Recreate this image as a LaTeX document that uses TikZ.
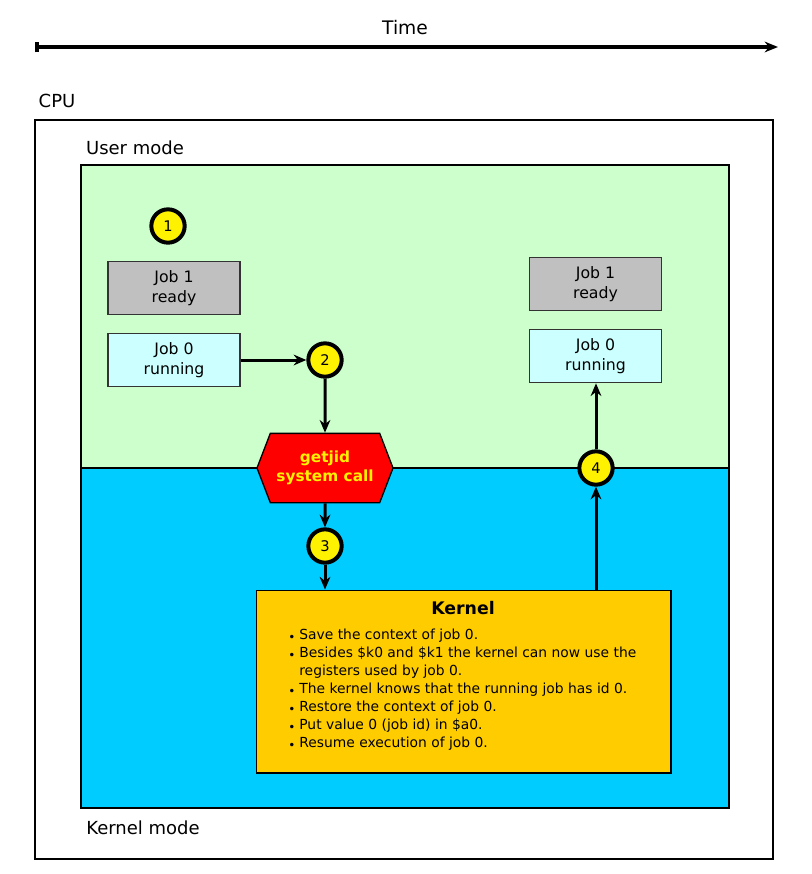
\documentclass[tikz,border=0pt]{standalone}
\usepackage{fontspec}
\setmainfont{DejaVu Sans}
\usetikzlibrary{arrows.meta, positioning, shapes.symbols}
\definecolor{usergreen}{HTML}{CCFFCC}
\definecolor{kernelblue}{HTML}{00CCFF}
\definecolor{readygray}{HTML}{C0C0C0}
\definecolor{runcyan}{HTML}{CCFFFF}
\definecolor{kernelorange}{HTML}{FFCC00}
\tikzset{
  jobbox/.style={
    minimum width=99pt,
    minimum height=40pt,
    align=center,
    draw=black!80,
    line width=1pt,
    inner sep=0pt,
    font=\fontsize{11.8}{15}\selectfont
  },
  ready/.style={jobbox, fill=readygray},
  running/.style={jobbox, fill=runcyan},
  stepnum/.style={
    circle,
    draw=black,
    line width=3pt,
    fill=yellow,
    minimum size=25pt,
    inner sep=0pt,
    font=\fontsize{11}{11}\selectfont
  },
  syscall/.style={
    signal, signal to=west and east,
    signal pointer angle=138,
    minimum width=102pt,
    minimum height=52pt,
    inner sep=0pt,
    align=center,
    draw=black,
    line width=1pt,
    fill=red,
    text=yellow,
    font=\fontsize{11.5}{14}\selectfont\bfseries
  },
  modelabel/.style={font=\fontsize{13.5}{15}\selectfont},
  arrow/.style={draw, line width=2.25pt, -{Stealth[length=9.5pt,width=8pt]}}
}
\newcommand{\kbul}{\raisebox{-1.2pt}{\small\textbullet}}

\begin{document}
\begin{tikzpicture}[x=0.75pt, y=-0.75pt]
  \useasboundingbox (0,0) rectangle (811,874);
  % time axis
  \node (time) [font=\fontsize{14}{16}\selectfont] at (405,28) {Time};
  \coordinate (tstart) at (35,47);
  \coordinate (tend) at (778,47);
  \draw [line width=3pt, {Bar[width=8pt]}-{Stealth[length=10pt,width=8pt]}] (tstart) -- (tend);
  % cpu and the two modes
  \node (cpu) [modelabel] at (57,101) {CPU};
  \draw [line width=1pt] (35,120) rectangle (773,859);
  \node (user) [modelabel] at (135,148) {User mode};
  \filldraw [fill=usergreen, line width=1pt] (81,165) rectangle (729,468);
  \filldraw [fill=kernelblue, line width=1pt] (81,468) rectangle (729,808);
  \node (kmode) [modelabel] at (143,828) {Kernel mode};
  % before the call
  \node (c1) [stepnum] at (168,226) {1};
  \node (job1a) [ready] at (174,288) {Job 1\\ready};
  \node (job0a) [running] at (174,360) {Job 0\\running};
  \node (c2) [stepnum] at (325,360) {2};
  \node (call) [syscall] at (325,468) {getjid\\system call};
  \node (c3) [stepnum] at (325,546) {3};
  % kernel
  \node (kernel) [draw=black, line width=1pt, fill=kernelorange,
    minimum width=311pt, minimum height=137pt] at (463.5,681.5) {};
  \node (ktitle) [font=\fontsize{13}{15}\selectfont\bfseries] at (463,608) {Kernel};
  \node (klist) [anchor=north west, inner sep=0pt,
    font=\fontsize{10.4}{13.5}\selectfont] at (288,627) {%
    \begin{tabular}{@{}l@{\hspace{3pt}}l@{}}
      \kbul & Save the context of job 0.\\
      \kbul & Besides \$k0 and \$k1 the kernel can now use the\\
       & registers used by job 0.\\
      \kbul & The kernel knows that the running job has id 0.\\
      \kbul & Restore the context of job 0.\\
      \kbul & Put value 0 (job id) in \$a0.\\
      \kbul & Resume execution of job 0.
    \end{tabular}};
  % after the call
  \node (c4) [stepnum] at (596,468) {4};
  \node (job1b) [ready] at (595.5,284) {Job 1\\ready};
  \node (job0b) [running] at (595.5,356) {Job 0\\running};
  \path
  (job0a) edge [arrow] (c2)
  (c2) edge [arrow] (call)
  (call) edge [arrow] (c3)
  (c3) edge [arrow] (c3 |- kernel.north)
  (c4 |- kernel.north) edge [arrow] (c4)
  (c4) edge [arrow] (c4 |- job0b.south)
  ;
\end{tikzpicture}
\end{document}
